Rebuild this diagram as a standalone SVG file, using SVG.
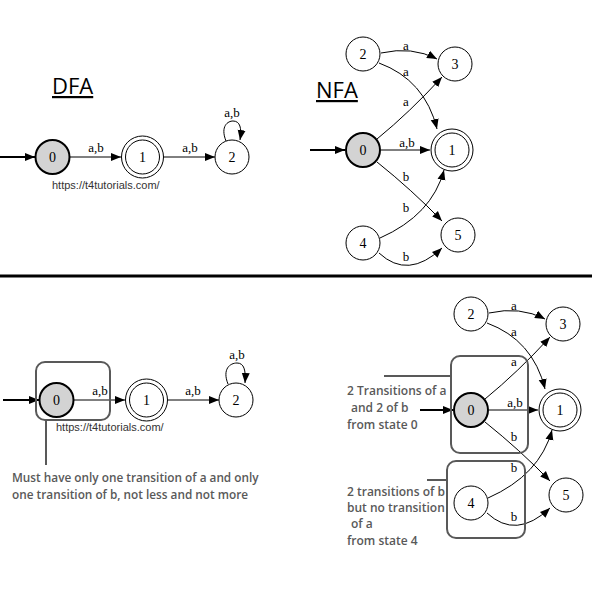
<svg xmlns="http://www.w3.org/2000/svg" width="592" height="598" viewBox="0 0 592 598">
<style>
.st{fill:#fff;stroke:#000;stroke-width:1}
.s0{fill:#d3d3d3;stroke:#000;stroke-width:2}
.nl{font-family:"Liberation Serif","DejaVu Serif","Times New Roman",serif;font-size:14px;text-anchor:middle;dominant-baseline:central;fill:#000}
.el{font-family:"Liberation Serif","DejaVu Serif","Times New Roman",serif;font-size:13px;text-anchor:middle;fill:#000}
.e{fill:none;stroke:#000;stroke-width:1;marker-end:url(#ah)}
.start{fill:none;stroke:#000;stroke-width:2;marker-end:url(#ah)}
.title{font-family:"Open Sans","DejaVu Sans",sans-serif;font-size:22px;fill:#000;text-decoration:underline}
.url{font-family:"Liberation Sans",Arial,sans-serif;font-size:11px;fill:#333}
.note{font-family:"Open Sans","DejaVu Sans",sans-serif;font-size:11.8px;font-weight:600;fill:#595959}
.note2{font-family:"Open Sans","DejaVu Sans",sans-serif;font-size:12px;font-weight:600;fill:#595959}
.box{fill:none;stroke:#595959;stroke-width:2}
.ln{fill:none;stroke:#595959;stroke-width:2}
</style>
<defs>
<marker id="ah" viewBox="0 0 10 10" refX="10" refY="5" markerWidth="10" markerHeight="10" markerUnits="userSpaceOnUse" orient="auto">
<path d="M0,1 L10,5 L0,9 z" fill="#000"/>
</marker>
</defs>
<rect width="592" height="598" fill="#fff"/>

<!-- Titles -->
<text class="title" x="52" y="94">DFA</text>
<text class="title" x="316" y="98">NFA</text>

<!-- separator -->
<line x1="0" y1="276" x2="592" y2="276" stroke="#000" stroke-width="3"/>

<!-- ===== Top DFA ===== -->
<g id="dfa1-edges">
<path class="start" d="M0,157 L35,157"/>
<path class="e" d="M70,157 L121,157"/>
<path class="e" d="M164,157 L215,157"/>
<path class="e" d="M226,141 C220,126 228,121 233,121 C240,121 242,128 240,140"/>
<text class="el" x="96" y="152">a,b</text>
<text class="el" x="190" y="152">a,b</text>
<text class="el" x="232" y="117">a,b</text>
</g>
<g id="dfa1-n0"><circle class="s0" cx="52.5" cy="157" r="17"/><text class="nl" x="52.5" y="157">0</text></g>
<g id="dfa1-n1"><circle class="st" cx="142.5" cy="157" r="21"/><circle class="st" cx="142.5" cy="157" r="17"/><text class="nl" x="142.5" y="157">1</text></g>
<g id="dfa1-n2"><circle class="st" cx="232" cy="157" r="17"/><text class="nl" x="232" y="157">2</text></g>
<text class="url" x="52" y="189">https://t4tutorials.com/</text>

<!-- ===== Top NFA ===== -->
<g id="nfa1-edges">
<path class="start" d="M310,150 L345,150"/>
<path class="e" d="M381,53 Q412,46 437,59"/>
<path class="e" d="M379,63 Q425,80 437,129"/>
<path class="e" d="M377,139 Q410,112 442,77"/>
<path class="e" d="M381,150 L430,150"/>
<path class="e" d="M377,162 Q412,190 442,221"/>
<path class="e" d="M380,238 Q432,215 444,170"/>
<path class="e" d="M379,253 Q408,280 442,248"/>
<text class="el" x="406" y="50">a</text>
<text class="el" x="406" y="76">a</text>
<text class="el" x="406" y="106">a</text>
<text class="el" x="407" y="147">a,b</text>
<text class="el" x="406" y="181">b</text>
<text class="el" x="406" y="212">b</text>
<text class="el" x="406" y="261">b</text>
</g>
<g id="nfa1-n2"><circle class="st" cx="363" cy="54" r="17"/><text class="nl" x="363" y="54">2</text></g>
<g id="nfa1-n3"><circle class="st" cx="455" cy="64" r="17"/><text class="nl" x="455" y="64">3</text></g>
<g id="nfa1-n0"><circle class="s0" cx="363" cy="150" r="17"/><text class="nl" x="363" y="150">0</text></g>
<g id="nfa1-n1"><circle class="st" cx="452" cy="150" r="21"/><circle class="st" cx="452" cy="150" r="17"/><text class="nl" x="452" y="150">1</text></g>
<g id="nfa1-n4"><circle class="st" cx="363" cy="243" r="17"/><text class="nl" x="363" y="243">4</text></g>
<g id="nfa1-n5"><circle class="st" cx="458" cy="235" r="17"/><text class="nl" x="458" y="235">5</text></g>

<!-- ===== Bottom DFA ===== -->
<g id="dfa2-edges">
<path class="start" d="M3,400 L39,400"/>
<path class="e" d="M74,400 L125,400"/>
<path class="e" d="M168,400 L219,400"/>
<path class="e" d="M228,384 C222,369 230,363 237,363 C244,363 246,370 245,383"/>
<text class="el" x="100" y="395">a,b</text>
<text class="el" x="193" y="395">a,b</text>
<text class="el" x="237" y="359">a,b</text>
</g>
<g id="dfa2-n0"><circle class="s0" cx="56.5" cy="400" r="17"/><text class="nl" x="56.5" y="400">0</text></g>
<g id="dfa2-n1"><circle class="st" cx="146.5" cy="400" r="21"/><circle class="st" cx="146.5" cy="400" r="17"/><text class="nl" x="146.5" y="400">1</text></g>
<g id="dfa2-n2"><circle class="st" cx="236" cy="400" r="17"/><text class="nl" x="236" y="400">2</text></g>
<text class="url" x="56" y="431">https://t4tutorials.com/</text>
<g id="dfa2-note">
<rect class="box" x="36" y="362" width="74" height="58" rx="9"/>
<line class="ln" x1="46" y1="420" x2="46" y2="465"/>
<text class="note" x="12" y="482">Must have only one transition of a and only</text>
<text class="note" x="12" y="499">one transition of b, not less and not more</text>
</g>

<!-- ===== Bottom NFA ===== -->
<g id="nfa2-edges" transform="translate(108,260)">
<path class="start" d="M312,150 L345,150"/>
<path class="e" d="M381,53 Q412,46 437,59"/>
<path class="e" d="M379,63 Q425,80 437,129"/>
<path class="e" d="M377,139 Q410,112 442,77"/>
<path class="e" d="M381,150 L430,150"/>
<path class="e" d="M377,162 Q412,190 442,221"/>
<path class="e" d="M380,238 Q432,215 444,170"/>
<path class="e" d="M379,253 Q408,280 442,248"/>
<text class="el" x="406" y="50">a</text>
<text class="el" x="406" y="76">a</text>
<text class="el" x="406" y="106">a</text>
<text class="el" x="407" y="147">a,b</text>
<text class="el" x="406" y="181">b</text>
<text class="el" x="406" y="212">b</text>
<text class="el" x="406" y="261">b</text>
</g>
<g id="nfa2-n2"><circle class="st" cx="471" cy="314" r="17"/><text class="nl" x="471" y="314">2</text></g>
<g id="nfa2-n3"><circle class="st" cx="563" cy="324" r="17"/><text class="nl" x="563" y="324">3</text></g>
<g id="nfa2-n0"><circle class="s0" cx="471" cy="410" r="17"/><text class="nl" x="471" y="410">0</text></g>
<g id="nfa2-n1"><circle class="st" cx="560" cy="410" r="21"/><circle class="st" cx="560" cy="410" r="17"/><text class="nl" x="560" y="410">1</text></g>
<g id="nfa2-n4"><circle class="st" cx="471" cy="503" r="17"/><text class="nl" x="471" y="503">4</text></g>
<g id="nfa2-n5"><circle class="st" cx="566" cy="495" r="17"/><text class="nl" x="566" y="495">5</text></g>
<g id="nfa2-note0">
<rect class="box" x="451" y="356" width="77" height="97" rx="9"/>
<line class="ln" x1="384" y1="376" x2="452" y2="376"/>
<text class="note2" x="347" y="395">2 Transitions of a</text>
<text class="note2" x="351" y="412">and 2 of b</text>
<text class="note2" x="347" y="429">from state 0</text>
</g>
<g id="nfa2-note4">
<rect class="box" x="447" y="461" width="78" height="77" rx="9"/>
<line class="ln" x1="427" y1="480" x2="448" y2="480"/>
<text class="note2" x="347" y="496">2 transitions of b</text>
<text class="note2" x="347" y="512">but no transition</text>
<text class="note2" x="351" y="528">of a</text>
<text class="note2" x="347" y="545">from state 4</text>
</g>
</svg>
